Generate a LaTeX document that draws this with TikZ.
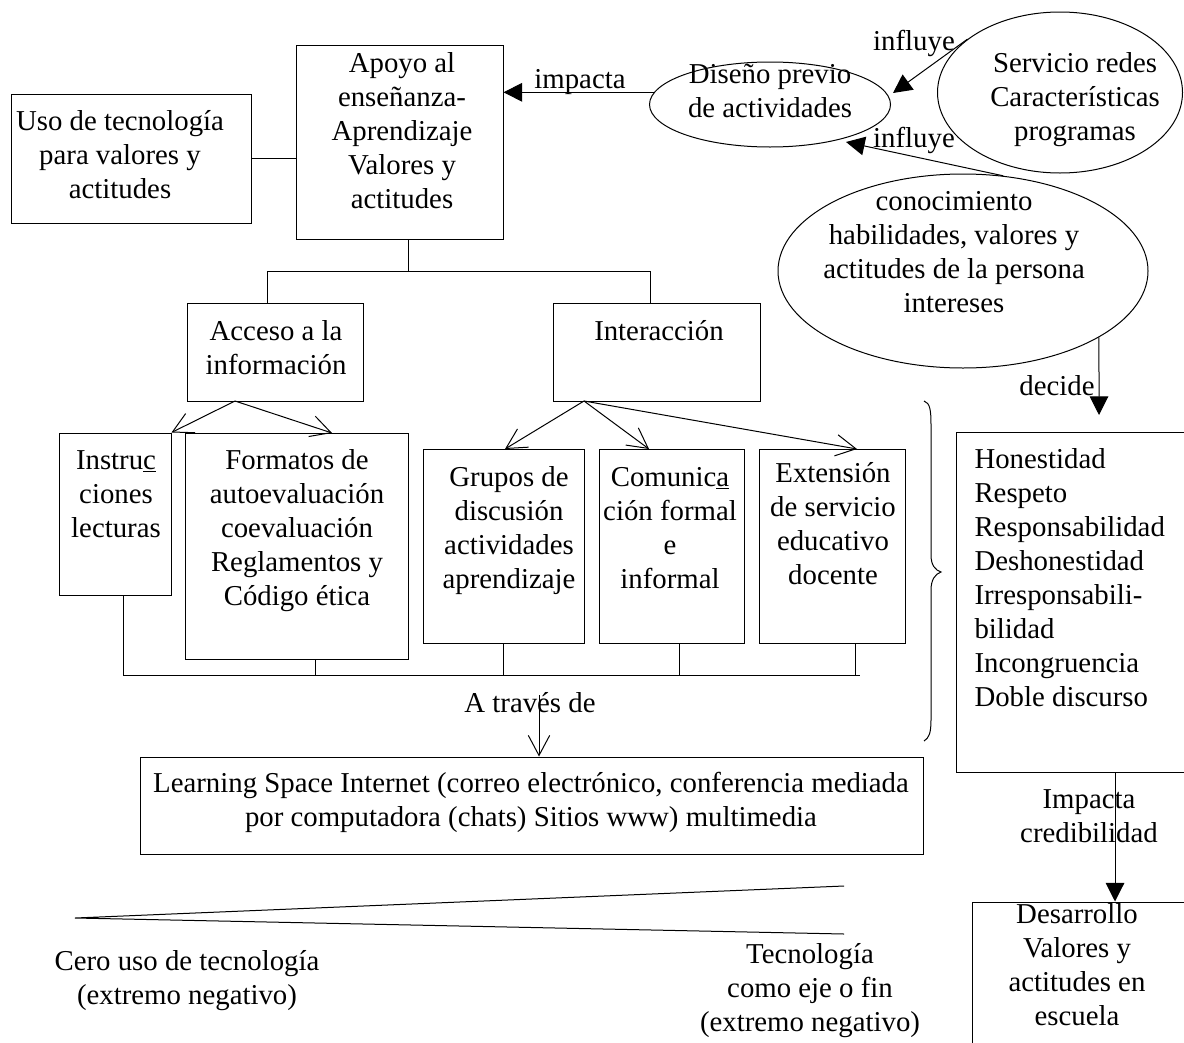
\documentclass[tikz,border=0pt]{standalone}
\usepackage{fontspec}
\setmainfont{Liberation Serif}
\usetikzlibrary{arrows.meta,shapes.geometric,fit}
\begin{document}
\begin{tikzpicture}[x=0.75pt,y=-0.75pt,
  line width=0.75pt,
  box/.style={draw, rectangle, inner sep=0pt},
  ell/.style={draw, ellipse, inner sep=0pt},
  txt/.style={align=center, inner sep=0pt, anchor=base, font=\fontsize{21.6}{25.5}\selectfont},
  ltxt/.style={align=left, inner sep=0pt, anchor=base west, font=\fontsize{21.6}{25.5}\selectfont},
  tri/.style={-{Triangle[length=14pt,width=14pt]}},
  barb/.style={-{Straight Barb[length=15pt,width=16pt]}}]
\useasboundingbox (0,0) rectangle (1184,1042);
\clip (0,0) rectangle (1184,1042);

% boxes
\node[box, fit={(11,94) (251,223)}] (uso) {};
\node[box, fit={(296,45) (503,239)}] (apoyo) {};
\node[box, fit={(187,303) (363,401)}] (acc) {};
\node[box, fit={(553,303) (760,401)}] (int) {};
\node[box, fit={(59,433) (171,595)}] (ins) {};
\node[box, fit={(185,433) (408,659)}] (fmt) {};
\node[box, fit={(423,449) (584,643)}] (gru) {};
\node[box, fit={(599,449) (744,643)}] (com) {};
\node[box, fit={(759,449) (905,643)}] (ext) {};
\node[box, fit={(956,432) (1200,772)}] (hon) {};
\node[box, fit={(140,757) (923,854)}] (lrn) {};
\node[box, fit={(972,902) (1200,1070)}] (des) {};

% ellipses
\node[ell, minimum width=180.75pt, minimum height=63.75pt] (dis) at (770,104.5) {};
\node[ell, minimum width=183.75pt, minimum height=120.75pt] (srv) at (1060,92.5) {};
\node[ell, minimum width=277.5pt, minimum height=145.5pt] (con) at (963,271) {};

% texts (anchor = baseline of the last line)
\node[txt] (usoT) at (120,198) {Uso de tecnología\\para valores y\\actitudes};
\node[txt] (apoyoT) at (402,208) {Apoyo al\\enseñanza-\\Aprendizaje\\Valores y\\actitudes};
\node[txt] (accT) at (276,374) {Acceso a la\\información};
\node[txt] (intT) at (659,340) {Interacción};
\node[txt] (insT) at (116,537) {Instru\underline{c}\\ciones\\lecturas};
\node[txt] (fmtT) at (297,605) {Formatos de\\autoevaluación\\coevaluación\\Reglamentos y\\Código ética};
\node[txt] (gruT) at (509,588) {Grupos de\\discusión\\actividades\\aprendizaje};
\node[txt] (comT) at (670,588) {Comunic\underline{a}\\ción formal\\e\\informal};
\node[txt] (extT) at (833,584) {Extensión\\de servicio\\educativo\\docente};
\node[ltxt] (honT) at (974,706) {Honestidad\\Respeto\\Responsabilidad\\Deshonestidad\\Irresponsabili-\\bilidad\\Incongruencia\\Doble discurso};
\node[txt] (lrnT) at (531,826) {Learning Space Internet (correo electrónico, conferencia mediada\\por computadora (chats) Sitios www) multimedia};
\node[txt] (disT) at (770,117) {Diseño previo\\de actividades};
\node[txt] (srvT) at (1075,140) {Servicio redes\\Características\\programas};
\node[txt] (conT) at (954,312) {conocimiento\\habilidades, valores y\\actitudes de la persona\\intereses};
\node[txt] (desT) at (1077,1025) {Desarrollo\\Valores y\\actitudes en\\escuela};

% labels
\node[txt] (lImp) at (580,88) {impacta};
\node[txt] (lInf1) at (914,50) {influye};
\node[txt] (lInf2) at (914,147) {influye};
\node[txt] (lDec) at (1057,395) {decide};
\node[txt] (lAtr) at (530,712) {A través de};
\node[txt] (lImpc) at (1089,842) {Impacta\\credibilidad};
\node[txt] (lCero) at (187,1004) {Cero uso de tecnología\\(extremo negativo)};
\node[txt] (lTec) at (810,1031) {Tecnología\\como eje o fin\\(extremo negativo)};

% tree connectors
\draw (uso.east) -- (uso.east -| apoyo.west);
\coordinate (aB) at (408,271);
\coordinate (bL) at (267,271);
\coordinate (bR) at (650,271);
\draw (apoyo.south -| aB) -- (aB);
\draw (bL |- acc.north) -- (bL) -- (bR) -- (bR |- int.north);

\coordinate (accO) at (235,401);
\coordinate (fmtIn) at (332,433);
\draw[barb] (accO) -- (ins.north east);
\draw[barb] (accO) -- (fmtIn);
\coordinate (intO) at (584,401);
\coordinate (gIn) at (505,449);
\coordinate (cIn) at (649,449);
\coordinate (eIn) at (857,449);
\draw[barb] (intO) -- (gIn);
\draw[barb] (intO) -- (cIn);
\draw[barb] (intO) -- (eIn);

\coordinate (busL) at (123,675);
\coordinate (busR) at (860,675);
\coordinate (vF) at (315,675);
\coordinate (vG) at (503,675);
\coordinate (vC) at (679,675);
\coordinate (vE) at (855,675);
\draw (ins.south -| busL) -- (busL) -- (busR);
\draw (fmt.south -| vF) -- (vF);
\draw (gru.south -| vG) -- (vG);
\draw (com.south -| vC) -- (vC);
\draw (ext.south -| vE) -- (vE);

\coordinate (atS) at (539,695);
\draw[barb] (atS) -- (lrn.north -| atS);

% top arrows
\draw[tri] (dis.174) -- (apoyo.east |- dis.174);
\coordinate (inf1T) at (893,93);
\draw[tri] (srv.150) -- (inf1T);
\coordinate (inf2T) at (846,142);
\draw[tri] (con.67) -- (inf2T);
\coordinate (decT) at (1099,415);
\draw[tri] (con.-26) -- (decT);
\coordinate (impX) at (1115,0);
\draw[tri] (hon.south -| impX) -- (des.north -| impX);

% brace
\draw (924,401) .. controls (930,403) and (931,410) .. (931,425) -- (931,555)
  .. controls (931,565) and (935,570) .. (941,572)
  .. controls (935,574) and (931,580) .. (931,590) -- (931,720)
  .. controls (931,733) and (929,738) .. (924,741);

% wedge
\coordinate (wP) at (75,918);
\coordinate (wU) at (844,886);
\coordinate (wD) at (844,934);
\draw (wU) -- (wP) -- (wD);
\end{tikzpicture}
\end{document}
